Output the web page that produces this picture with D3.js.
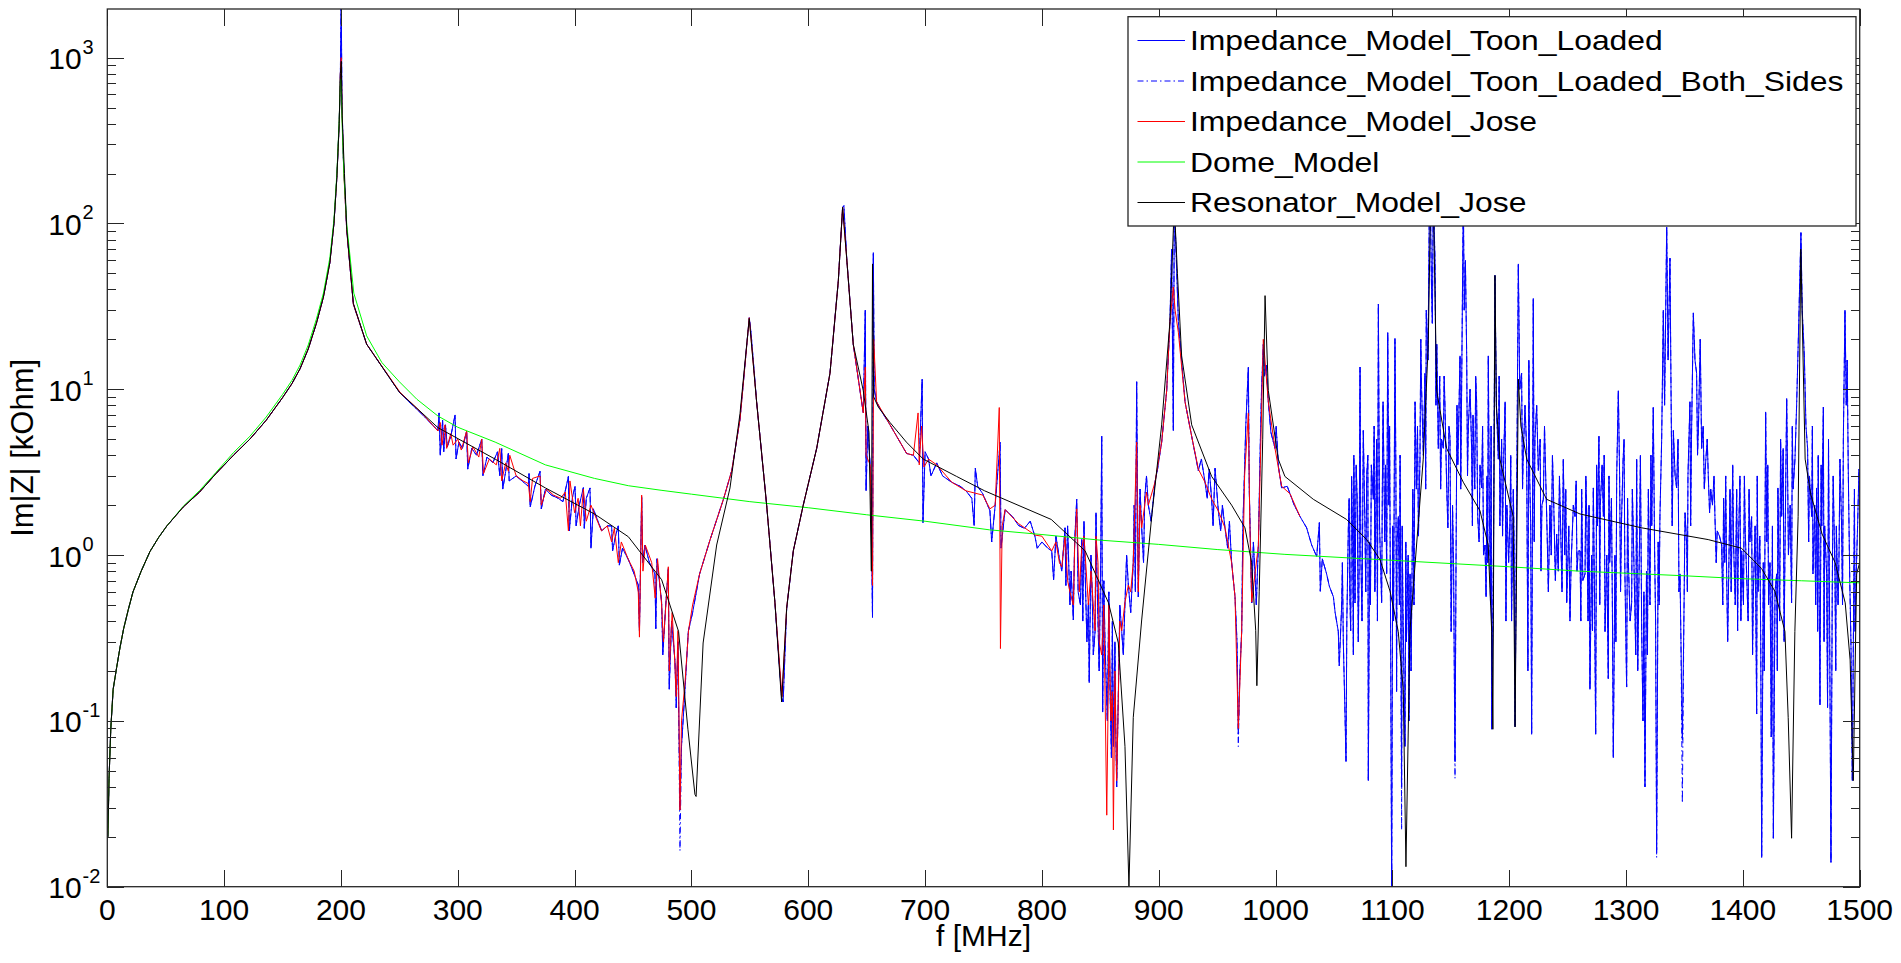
<!DOCTYPE html>
<meta charset="utf-8">
<script src="https://d3js.org/d3.v7.min.js"></script>
<style>
    body { margin: 0; background: #fff; }
    text { font-family: "Liberation Sans", Arial, sans-serif; fill: #000; }
</style>
<div id="chart"></div>
<script>
    // ---------------- data (f in MHz, Im|Z| in kOhm) ----------------
    var xTickValues = [0, 100, 200, 300, 400, 500, 600, 700, 800, 900, 1000, 1100, 1200, 1300, 1400, 1500];
    var yDecades = [-2, -1, 0, 1, 2, 3];
    var yMinorMantissas = [2, 3, 4, 5, 6, 7, 8, 9];

    var seriesNames = ["Impedance_Model_Toon_Loaded", "Impedance_Model_Toon_Loaded_Both_Sides",
        "Impedance_Model_Jose", "Dome_Model", "Resonator_Model_Jose"];

    // first resonance (all models on top of each other)
    var riseF = [0.5, 1.5, 3, 5, 8, 11, 14, 18, 22, 29, 36.5, 44, 51, 65, 79, 93, 108, 122, 136, 150, 158, 165, 172, 179, 185, 190.5, 194, 196.5, 198.5, 199.5];
    var riseZ = [0.02, 0.045, 0.09, 0.155, 0.21, 0.28, 0.36, 0.47, 0.6, 0.8, 1.05, 1.28, 1.5, 1.95, 2.4, 3.1, 4.0, 5.0, 6.5, 8.9, 10.8, 13.3, 17.5, 25, 36, 58, 100, 190, 400, 800];
    var domeRiseZ = [0.02, 0.045, 0.09, 0.155, 0.21, 0.28, 0.36, 0.47, 0.6, 0.8, 1.05, 1.28, 1.5, 1.97, 2.45, 3.15, 4.15, 5.2, 6.8, 9.3, 11.3, 14, 18.5, 26.5, 38, 62, 105, 200, 420, 740];

    var toonTail = [
        [200.2, 2500], [200.8, 600], [202, 250], [204.9, 92], [210.6, 32.6], [222, 18.7], [250.5, 9.5], [270, 7.0],
        [283, 5.64], [284, 7.2], [285, 4.0], [287, 6.5], [288, 4.2], [289.5, 6.1], [291, 4.5], [294, 5.2], [297.7, 7.0], [298.5, 3.8],
        [301, 4.8], [304, 4.4], [307.6, 5.6], [308.5, 3.3], [312, 4.4], [316, 4.0], [320.5, 5.0], [321.5, 3.0], [325, 3.9], [330, 3.6],
        [334, 4.2], [336, 3.0], [337.6, 4.4], [338.5, 2.5], [341, 3.2], [343.3, 4.1], [344, 2.8], [350, 3.0], [355, 2.8], [360.4, 2.6],
        [361, 3.1], [362, 1.95], [366, 2.6], [370.4, 3.2], [371.5, 1.9], [375, 2.5], [380, 2.3], [386, 2.2], [390, 2.1], [394.7, 2.98],
        [395.5, 1.4], [398, 2.2], [400.4, 2.6], [401.3, 1.5], [404, 2.0], [407.5, 2.55], [408.3, 1.45], [410, 2.2], [413.2, 2.54], [414, 1.1],
        [416, 1.9], [420, 1.6], [423.2, 1.4], [428, 1.5], [431.7, 1.5], [432.5, 1.06], [435, 1.3], [437.4, 1.5], [438.3, 0.87], [441, 1.1],
        [446, 0.94], [450, 0.8], [454.5, 0.66], [455.5, 0.35], [457.4, 2.25], [458.3, 0.9], [460.2, 1.15], [464, 0.9], [468.8, 0.77], [469.5, 0.36],
        [470.5, 0.95], [474.5, 0.52], [475.5, 0.25], [478, 0.5], [480.2, 0.83], [481, 0.155], [483, 0.4], [485.9, 0.23], [487, 0.12], [488.5, 0.3],
        [490.2, 0.029], [491.5, 0.07], [494.5, 0.155], [497.3, 0.346], [501, 0.45], [507, 0.77], [516, 1.24], [527.4, 2.17], [534.5, 3.23], [541.6, 6.6],
        [549.5, 27], [551, 22], [555.8, 8.4], [564.4, 2.0], [571.5, 0.515], [577.2, 0.138], [578.5, 0.13], [581.5, 0.476], [587.2, 1.06], [595.7, 2.0],
        [607.2, 4.4], [618.6, 12.5], [625.7, 44.8], [629.4, 125], [630.5, 128], [632.9, 61.7], [638.5, 18.7], [647.1, 7.2], [648.8, 30], [649.5, 2.44],
        [651, 6], [653.5, 3.0], [655, 0.42], [655.7, 66.7], [656.5, 10], [658.5, 8.4], [662, 7.5], [670, 6.1], [684.2, 4.1], [690, 4.0],
        [695, 3.6], [697.5, 11.5], [698.2, 1.57], [700, 4.2], [703, 3.79], [705, 3.0], [710, 3.6], [715, 3.0], [722.8, 2.75], [730, 2.6],
        [735, 2.44], [740, 2.2], [742, 1.51], [743, 3.34], [745, 2.6], [749.4, 2.34], [755.5, 1.85], [757, 1.2], [760, 2.0], [764.2, 4.8],
        [765, 1.1], [768.5, 1.88], [775, 1.7], [779.9, 1.51], [785, 1.45], [790, 1.6], [794.1, 1.29], [796, 1.1], [800, 1.2], [805, 1.1],
        [808.4, 1.06], [810, 0.71], [815, 0.95], [819.8, 1.46], [820.5, 0.656], [825, 0.8], [826.9, 0.406], [829.8, 2.17], [831, 0.6], [834.1, 1.24],
        [835, 0.4], [837, 0.8], [839.8, 0.515], [840.5, 0.17], [843, 0.6], [845.5, 0.346], [847, 0.8], [851.2, 5.2], [852, 0.113], [854, 0.3],
        [858.3, 0.155], [859.5, 0.06], [861.2, 0.07], [862.5, 0.3], [864, 0.04], [865.5, 0.155], [868.3, 0.346], [871.1, 0.515], [874, 0.656], [878.2, 0.9],
        [879, 2.0], [881.1, 11.1], [882.5, 0.56], [885.4, 1.46], [888, 2.2], [891.1, 2.0], [896.8, 2.75], [902.5, 4.8], [906.8, 9.8], [909.6, 25.6],
        [911, 70], [912.5, 5.64], [913.3, 120], [914.5, 80], [916.8, 25.6], [922.5, 8.4], [928.2, 5.2], [933.9, 3.23], [939.6, 2.75], [945.3, 2.17],
        [946.5, 1.5], [948.2, 3.34], [951, 1.85], [956.7, 1.46], [962.4, 0.9], [965.3, 0.56], [968.1, 0.083], [971, 0.346], [973.3, 3.0], [976.7, 13.6],
        [977.5, 2.5], [979.6, 0.515], [982.4, 0.77], [985.3, 1.15], [987, 5], [989.5, 18.7], [990.5, 12], [993.8, 8.4], [999.5, 4.4], [1000.5, 6],
        [1005.2, 2.54], [1010, 2.6], [1012.4, 2.34], [1016, 2.0], [1020.9, 1.71], [1026.6, 1.46], [1030.9, 1.15], [1035.2, 0.98], [1037.5, 1.57], [1038.3, 0.605],
        [1040, 0.95], [1043.7, 0.77], [1046, 0.65], [1049.5, 0.56], [1051, 0.45], [1053.7, 0.346], [1054.5, 0.215], [1056.6, 0.5], [1058, 0.3], [1059.4, 0.113],
        [1060.3, 0.057], [1061, 0.4], [1062.3, 1.46], [1063.5, 0.6], [1065.1, 2.98], [1066, 1.2], [1067, 4.0], [1068, 0.515], [1070, 2.0], [1071.5, 0.8],
        [1072.3, 13.6], [1073, 1.0], [1075.1, 5.64], [1076.5, 1.5], [1078, 3.0], [1079.4, 0.0436], [1080.5, 1.2], [1082, 3.5], [1083.7, 2.17], [1085, 0.6],
        [1086.5, 5], [1088, 32.6], [1089, 1.5], [1090.8, 0.515], [1092, 8.4], [1093.5, 1.2], [1095.1, 0.77], [1096, 22], [1097, 2], [1098.5, 0.3],
        [1099.4, 0.009], [1100.3, 1.5], [1102.2, 20.2], [1103, 3], [1104, 1.2], [1105.1, 1.71], [1106, 0.5], [1107.9, 0.04], [1109, 0.5], [1110.8, 0.07],
        [1112, 0.3], [1113.5, 1.0], [1115.1, 0.77], [1116, 0.2], [1117.5, 2.5], [1119.4, 8.4], [1120.5, 2.5], [1121.5, 6], [1123.6, 3.79], [1125, 10],
        [1126.5, 4], [1127.9, 12.5], [1129, 30], [1130.5, 15], [1131.5, 100], [1132.2, 200], [1133.5, 40], [1135, 150], [1136.5, 60], [1138, 18.7],
        [1139.3, 4.4], [1140.5, 12], [1142, 5], [1143.6, 4.4], [1145, 8], [1146.5, 2.54], [1147.5, 1.46], [1149.3, 5.2], [1150.3, 0.346], [1151.5, 2.0],
        [1153.6, 0.057], [1154.5, 1.0], [1156, 3.5], [1157.9, 15.9], [1159, 6], [1160.7, 150], [1161.5, 30], [1163.6, 15.9], [1165, 6], [1166.5, 10],
        [1167.8, 4.4], [1169, 7], [1170.5, 2.5], [1172.1, 8.4], [1173, 1.71], [1175, 3.5], [1176.4, 2.54], [1178, 1.0], [1179.3, 1.15], [1180.2, 0.56],
        [1181, 3.0], [1182.1, 15.9], [1183, 2.0], [1184, 0.5], [1185, 0.089], [1186.5, 1.0], [1187.8, 48.6], [1189, 8], [1190.7, 3.79], [1192, 1.5],
        [1193.5, 5], [1195, 3.2], [1196.5, 8.4], [1198, 2.0], [1199.5, 0.9], [1200.7, 1.71], [1202, 0.4], [1203.5, 2.5], [1205, 0.092], [1206.5, 3],
        [1207.8, 57], [1209, 10], [1210.6, 12.5], [1212, 4], [1213.5, 8], [1214.9, 4.4], [1216, 0.2], [1217.5, 3], [1219.2, 0.083], [1220.6, 35.3],
        [1222, 5], [1223.5, 8], [1224.9, 3.23], [1226.5, 5], [1228, 2.0], [1229.2, 2.17], [1231, 3.5], [1232.5, 1.3], [1234.9, 2.0], [1236, 1.0],
        [1238, 2.2], [1240.6, 1.34], [1242, 0.8], [1244, 1.5], [1246.3, 3.79], [1247.5, 1.0], [1249.2, 0.515], [1251, 1.5], [1253, 0.9], [1254.9, 2.0],
        [1256.3, 1.71], [1258, 0.8], [1259.1, 1.06], [1260.6, 1.06], [1262, 2.5], [1263, 0.7], [1264.9, 0.77], [1266.5, 1.5], [1267.5, 0.4], [1269.1, 0.155],
        [1270.5, 1.0], [1272, 2.54], [1273, 0.6], [1274, 0.083], [1275.5, 1.5], [1276.8, 5.2], [1278, 2.0], [1279.5, 3.5], [1280.6, 1.71], [1282, 0.346],
        [1283.5, 1.0], [1284.8, 0.18], [1286, 0.9], [1287.5, 2.2], [1289.1, 0.06], [1290.5, 1.0], [1292, 3], [1293.4, 9.8], [1294.5, 3], [1296.2, 1.71],
        [1297.5, 3.79], [1299, 0.8], [1300.5, 0.16], [1302, 0.9], [1303.5, 0.4], [1304.8, 0.515], [1306, 1.6], [1307.5, 0.5], [1309.1, 3.79], [1310, 0.2],
        [1311.5, 1.2], [1313.4, 0.346], [1314.5, 0.1], [1315.3, 0.6], [1316.2, 0.04], [1317.5, 0.8], [1319.1, 2.5], [1320.5, 0.5], [1322, 1.5], [1323.3, 7.76],
        [1324.5, 1.0], [1326.2, 0.0167], [1327.5, 1.2], [1329, 1.71], [1330.5, 5], [1331.9, 30], [1333, 8], [1334.8, 95], [1336, 15], [1337.6, 61.7],
        [1338.5, 10], [1340.5, 5.64], [1342, 3], [1343.3, 2.54], [1344.5, 5], [1346.2, 0.77], [1347, 0.3], [1348.2, 0.077], [1349.5, 0.4], [1351.9, 1.15],
        [1353, 3], [1354.7, 8.4], [1356, 5], [1357.6, 28.9], [1359, 15], [1360.4, 12.5], [1362, 6], [1364.7, 4.4], [1366, 6], [1368, 3.5],
        [1370.4, 3.0], [1372.5, 2.5], [1374, 2.0], [1376.1, 1.71], [1378, 1.4], [1380, 1.3], [1381.8, 1.15], [1383.5, 2.2], [1384.5, 0.9], [1386.1, 0.77],
        [1387, 0.3], [1389, 2.5], [1390, 0.6], [1392, 1.2], [1394.7, 2.5], [1396, 1.0], [1397.5, 3], [1399, 1.06], [1400.5, 0.5], [1402, 1.4],
        [1403.2, 0.77], [1404.5, 0.4], [1406, 1.2], [1407.5, 1.71], [1409, 0.6], [1410.5, 1.5], [1411.8, 0.11], [1413, 0.6], [1414.5, 1.3], [1416.1, 0.015],
        [1417.5, 0.9], [1419.5, 7.3], [1420.5, 1.2], [1422, 0.5], [1423.2, 0.9], [1424.3, 0.08], [1426.1, 0.0196], [1427.5, 0.6], [1428.9, 0.77], [1430, 2.54],
        [1431.5, 0.4], [1433.2, 1.71], [1434.5, 4.4], [1436, 1.0], [1437.5, 8.8], [1439, 1.0], [1440.5, 2], [1441.7, 0.515], [1443, 2.5], [1444.6, 3.79],
        [1446, 8], [1447.4, 19], [1448.5, 40], [1449.7, 88], [1450.8, 30], [1452.6, 15.9], [1454, 6], [1455.4, 4.4], [1457, 3], [1458.9, 1.71],
        [1460, 0.77], [1461.5, 2], [1463.1, 2.54], [1464, 0.346], [1465, 1.2], [1466, 0.125], [1467.5, 1.5], [1468.9, 7.8], [1470, 1.5], [1471.7, 0.77],
        [1472.5, 0.12], [1474, 0.8], [1475.4, 0.014], [1476.5, 0.6], [1478.8, 0.77], [1480, 1.5], [1481.5, 0.5], [1483.1, 3.79], [1484.5, 1.5], [1486, 5],
        [1487.4, 30], [1488.5, 8], [1490.2, 3.3], [1491.5, 0.7], [1492.5, 0.3], [1493.7, 0.0436], [1494.8, 0.5], [1496, 0.346], [1497, 0.77], [1498.2, 1.5],
        [1499.4, 3.3], [1500, 2.0]
    ];

    // finer readings of the dense noisy bands (merged into the same trace)
    var toonTailFine = [
        [812, 1.3], [817, 0.8], [822, 1.5], [824, 0.5], [828, 1.2], [833, 0.5], [836, 1.6], [838.5, 0.3], [842, 1.0], [844, 0.25],
        [846.3, 1.8], [849, 0.2], [850.3, 0.9], [853, 0.7], [856, 0.1], [857.3, 0.6], [860.3, 0.4], [863.2, 0.09], [866.7, 0.5], [869.7, 0.25],
        [872.5, 1.0], [876, 0.45], [880, 0.6], [884, 2.5], [887, 0.9], [889.5, 3], [893.5, 1.6], [899, 3.3],
        [936.5, 3.8], [941.5, 2.2], [943.2, 3.3], [953, 1.4], [954.5, 2.0], [959, 1.1], [960.5, 1.6], [967, 0.3], [969.5, 0.2], [972, 1.5],
        [974.5, 6], [981, 1.2], [983.5, 0.5], [988, 10], [992, 14], [996, 5.5], [1002.5, 3.4],
        [1057.2, 0.9], [1063, 2.2], [1064.3, 0.35], [1066.6, 0.25], [1069, 3.5], [1070.8, 0.3], [1074, 0.4], [1077.2, 0.6], [1079, 4], [1081.2, 0.5],
        [1084.4, 6], [1087.2, 0.4], [1091.4, 2.5], [1094.2, 3.5], [1097.6, 6], [1101, 0.4], [1103.6, 0.15], [1106.6, 4], [1108.4, 1.5], [1111.5, 1.2],
        [1114.2, 0.1], [1118.5, 0.5], [1122.3, 1.3], [1124.3, 20], [1128.5, 2.5], [1134.2, 25], [1137.3, 8], [1141.3, 2.5], [1144.3, 12], [1148.4, 6],
        [1152.4, 0.8], [1155.3, 8], [1158.5, 2.5], [1162.5, 60], [1164.3, 3], [1168.5, 1.5], [1171.3, 12], [1174.2, 1.2], [1177.2, 6], [1181.6, 0.9],
        [1184.5, 6], [1191.4, 12], [1194.3, 1.3], [1197.2, 0.4], [1201.3, 4], [1204.2, 1.2], [1211.4, 2.5], [1216.8, 15], [1218.4, 1.5], [1221.4, 1.2],
        [1227.2, 0.8], [1230.2, 6], [1233.5, 0.6], [1237, 4], [1239.5, 0.7], [1243, 3], [1245.2, 0.6], [1248.4, 2.5], [1252, 0.4], [1257.3, 2.8],
        [1261.3, 0.4], [1265.6, 3], [1268.3, 2], [1271.3, 0.35], [1274.8, 3.5], [1277.5, 0.5], [1281.3, 4], [1285.4, 3], [1288.3, 0.5], [1291.3, 0.3],
        [1295.3, 0.6], [1298.3, 5], [1301.3, 2.2], [1305.4, 2.5], [1308.3, 0.25], [1312.3, 4], [1318.3, 0.25], [1321.3, 4], [1325.3, 0.4], [1328.3, 0.5],
        [1339.5, 1.5], [1345.3, 0.6], [1350.5, 1.8], [1352.5, 0.6], [1355.3, 1.5], [1361.2, 4], [1363.5, 20], [1367, 2.5], [1369.5, 5], [1371.5, 1.8],
        [1375.3, 3], [1377.2, 0.9], [1382.8, 0.5], [1385.3, 3], [1388.3, 1.2], [1391.3, 3.5], [1393.5, 0.5], [1395.5, 0.35], [1398.3, 0.4], [1401.3, 3],
        [1405.3, 2.5], [1408.3, 0.25], [1412.3, 3], [1415.3, 0.3], [1418.3, 0.2], [1421.3, 3.5], [1425.3, 1.5], [1429.5, 0.2], [1432.3, 5], [1435.3, 0.3],
        [1438.3, 3], [1442.3, 6], [1456.3, 1.2], [1459.5, 6], [1462.3, 0.5], [1464.5, 4], [1467, 3.5], [1469.5, 0.3], [1473.3, 5], [1477.3, 3],
        [1479.5, 0.2], [1482.3, 1], [1485.3, 0.5], [1489.3, 15], [1495.5, 2.5]
    ];

    // where the "both sides" trace dips deeper than the single-sided one
    var bothSidesDips = [[490.2, 0.0165], [968.1, 0.07], [1107.9, 0.022], [1153.6, 0.045], [1326.2, 0.015], [1348.2, 0.032]];

    var joseTail = [
        [200.2, 1000], [201, 450], [202.5, 200], [204.9, 92], [210.6, 32.6], [222, 18.7], [250.5, 9.6], [270, 7.1],
        [283, 5.6], [285, 6.3], [286.5, 4.6], [289, 6.1], [290.5, 4.4], [294, 5.4], [296, 4.6], [300, 5.0], [303, 4.3], [307.6, 5.6],
        [309, 3.6], [313, 4.5], [318, 3.9], [320.5, 5.0], [322, 3.1], [327, 3.8], [333, 3.5], [336, 4.4], [337.6, 2.8], [341, 3.6],
        [343.3, 3.2], [344.5, 4.0], [350, 3.0], [356, 2.8], [360.4, 2.7], [362, 2.1], [364, 2.9], [370.4, 3.0], [371.5, 2.0], [376, 2.5],
        [382, 2.3], [388, 2.2], [392, 2.4], [394.7, 1.4], [396, 2.8], [400, 1.8], [403, 2.2], [405, 1.5], [407.5, 2.5], [410, 1.6],
        [414, 2.0], [418, 1.7], [423, 1.4], [428, 1.5], [431.7, 1.2], [434, 1.45], [437.4, 0.9], [440, 1.2], [446, 0.94], [451, 0.8],
        [454.5, 0.6], [455.5, 0.32], [457.4, 2.3], [458.5, 0.8], [460.5, 1.15], [466, 0.9], [469, 0.55], [471, 0.95], [474.5, 0.5], [476, 0.3],
        [478.5, 0.55], [480.2, 0.85], [481, 0.2], [483.5, 0.45], [485.5, 0.25], [487, 0.14], [488.5, 0.35], [490.2, 0.029], [491.5, 0.1], [494.5, 0.17],
        [497.5, 0.35], [501, 0.5], [507, 0.77], [516, 1.24], [527.4, 2.17], [534.5, 3.23], [541.6, 6.6], [549.5, 27], [555.8, 8.4], [564.4, 2.0],
        [571.5, 0.515], [577.5, 0.14], [581.5, 0.48], [587.2, 1.06], [595.7, 2.0], [607.2, 4.4], [618.6, 12.5], [625.7, 44.8], [629.4, 125], [632.9, 61.7],
        [638.5, 18.7], [647.1, 7.2], [648.8, 13.6], [649.5, 4], [653, 3.5], [655, 0.656], [656, 20], [658.5, 8.4], [670, 6.1], [684.2, 4.1],
        [690, 4.0], [694, 7.2], [695, 3.5], [697, 6], [699, 3.4], [703, 3.79], [710, 3.5], [722.8, 2.75], [735, 2.44], [749.4, 2.3],
        [755.5, 1.9], [760, 2.0], [763.5, 7.76], [764.5, 0.273], [766, 1.5], [768.5, 1.88], [779.9, 1.55], [794.1, 1.32], [800, 1.3], [808.4, 1.06],
        [812, 1.2], [815, 0.9], [817, 0.85], [819.8, 1.3], [822, 0.7], [824, 0.6], [826.9, 0.5], [828, 1.1], [829.8, 1.9], [832, 0.6],
        [834.1, 1.1], [836, 1.3], [839.8, 0.5], [842, 0.8], [845.5, 0.35], [846.3, 1.3], [848, 0.9], [849, 0.3], [851.2, 0.25], [853, 0.5],
        [855.5, 0.027], [857, 0.2], [857.3, 0.5], [859, 0.1], [860.3, 0.15], [861.2, 0.022], [862.5, 0.2], [864, 0.0436], [865.5, 0.15], [866.7, 0.4],
        [868.3, 0.35], [871.1, 0.52], [874, 0.66], [876, 0.6], [878.2, 0.9], [881.1, 4.8], [882.5, 0.6], [884, 2], [885.4, 1.46], [889.5, 2.4],
        [891.1, 2.0], [896.8, 2.75], [902.5, 4.8], [906.8, 9.8],
        [909.6, 25.6], [912.5, 41.4], [914, 30], [916.8, 22], [922.5, 8.4], [928.2, 5.2], [933.9, 3.3], [939.6, 2.75], [945.3, 2.17], [951, 1.85],
        [956.7, 1.46], [962.4, 0.9], [965.3, 0.56], [968.1, 0.09], [971, 0.35], [973.5, 3], [976.7, 7.2], [978, 1.5], [979.6, 0.52], [982.4, 0.77],
        [985.3, 1.15], [989.5, 20], [993.8, 8.4], [999.5, 4.4], [1005.2, 2.6], [1012.4, 2.34], [1020.9, 1.71]
    ];

    var domeTail = [
        [200.2, 740], [201, 400], [202.5, 200], [205, 98], [211, 38], [222, 21], [235, 14.5], [250, 11.1], [265, 8.7], [283, 6.9],
        [300, 5.9], [332, 4.8], [375, 3.5], [417, 2.9], [446, 2.62], [474, 2.46], [500, 2.33], [550, 2.1], [600, 1.93], [650, 1.75],
        [700, 1.6], [755, 1.42], [800, 1.33], [850, 1.23], [900, 1.16], [950, 1.08], [1008, 1.01], [1100, 0.93], [1200, 0.85], [1260, 0.8],
        [1350, 0.75], [1400, 0.72], [1450, 0.7], [1500, 0.68]
    ];

    var resonatorTail = [
        [200.3, 950], [201, 450], [203, 200], [205, 92], [210.6, 33], [222, 18.7], [250, 9.6], [283, 5.87], [332, 3.79], [375, 2.54],
        [417, 1.77], [446, 1.29], [474.5, 0.71], [489, 0.346], [497, 0.089], [503, 0.036], [504, 0.035], [510, 0.295], [521.6, 1.15], [533, 2.54],
        [541.6, 7.17], [549.5, 26.7], [555.8, 8.4], [564.4, 2.0], [571.5, 0.515], [577.2, 0.13], [581.5, 0.476], [587.2, 1.06], [595.7, 2.0], [607.2, 4.4],
        [618.6, 12.5], [625.7, 44.8], [629.4, 125], [632.9, 61.7], [638.5, 18.7], [647.1, 9.8], [652, 5.5], [654, 0.8], [655, 57], [656, 9],
        [660, 7.8], [670, 6.3], [684, 4.8], [698.5, 3.79], [727, 2.98], [751, 2.44], [808, 1.64], [837, 1.06], [857, 0.515], [865.4, 0.295],
        [871.1, 0.07], [874.5, 0.01], [878.2, 0.105], [885.4, 0.406], [894, 1.71], [902.5, 6.1], [909.6, 25.6], [913.3, 130], [916, 50], [919.6, 15.9],
        [928.2, 6.1], [945.3, 2.98], [962.4, 2.0], [973.8, 1.46], [979.5, 0.9], [983, 0.35], [984, 0.163], [986, 0.6], [989, 5], [991, 36.7],
        [993.8, 9.8], [1002.3, 3.79], [1008, 2.98], [1032.3, 2.17], [1060.8, 1.64], [1078, 1.24], [1089.4, 0.94], [1098, 0.605], [1105, 0.346], [1109.3, 0.155],
        [1111.6, 0.0132], [1115, 0.346], [1120.7, 1.15], [1126.4, 3.79], [1130.7, 18.7], [1133.5, 300], [1135, 150], [1137.9, 9.8], [1146.4, 4.4], [1160.7, 2.75],
        [1175, 1.85], [1182, 1.15], [1185, 0.346], [1186, 0.089], [1187.8, 48.6], [1189, 8], [1192, 3.79], [1203.4, 1.71], [1205, 0.092], [1207.8, 11.5],
        [1210, 6], [1215, 3.79], [1232, 2.17], [1260.6, 1.77], [1313.3, 1.46], [1370.3, 1.24], [1398.8, 1.1], [1416, 0.83], [1427.4, 0.605], [1436, 0.346],
        [1438.8, 0.105], [1441.7, 0.0196], [1444.5, 0.346], [1447.3, 1.71], [1449.6, 70], [1453.3, 3.79], [1458, 2.34], [1467.8, 1.34], [1479, 0.9], [1487.6, 0.515],
        [1491.8, 0.233], [1494.5, 0.0436], [1497.4, 0.77], [1500, 0.9]
    ];

    // ---------------- layout ----------------
    var W = 1901, H = 963;
    var plotLeft = 107.3, plotRight = 1859.7, plotTop = 9, plotBottom = 886.7;

    var svg = d3.select("#chart").append("svg")
        .attr("width", W).attr("height", H);

    var x = d3.scaleLinear().domain([0, 1500]).range([plotLeft, plotRight]);
    var y = d3.scaleLog().domain([0.01, 1965]).range([plotBottom, plotTop]);

    svg.append("clipPath").attr("id", "plotclip")
        .append("rect").attr("x", plotLeft).attr("y", plotTop)
        .attr("width", plotRight - plotLeft).attr("height", plotBottom - plotTop);

    // build series
    var byF = function (a, b) { return a[0] - b[0]; };
    var rise = riseF.map(function (f, i) { return [f, riseZ[i]]; });
    var domeRise = riseF.map(function (f, i) { return [f, domeRiseZ[i]]; });
    var toon = rise.concat(toonTail, toonTailFine).sort(byF);
    var bothSides = toon.map(function (d) {
        var dip = bothSidesDips.find(function (p) { return p[0] === d[0]; });
        return dip ? dip : d;
    });

    var series = [
        { name: seriesNames[0], data: toon, color: "#0000ff", dash: null },
        { name: seriesNames[1], data: bothSides, color: "#0000ff", dash: "6,3,1.5,3" },
        { name: seriesNames[2], data: rise.concat(joseTail).sort(byF), color: "#ff0000", dash: null },
        { name: seriesNames[3], data: domeRise.concat(domeTail), color: "#00ff00", dash: null },
        { name: seriesNames[4], data: rise.concat(resonatorTail), color: "#000000", dash: null }
    ];

    var line = d3.line()
        .x(function (d) { return x(d[0]); })
        .y(function (d) { return y(Math.max(d[1], 0.008)); });

    var plot = svg.append("g").attr("clip-path", "url(#plotclip)");
    plot.selectAll("path.trace")
        .data(series)
        .enter()
        .append("path")
        .attr("class", "trace")
        .attr("d", function (d) { return line(d.data); })
        .attr("fill", "none")
        .attr("stroke", function (d) { return d.color; })
        .attr("stroke-width", 1)
        .attr("stroke-dasharray", function (d) { return d.dash; });

    // ---------------- axes (inward ticks, box on) ----------------
    var axisColor = "#262626";
    var majorY = yDecades.map(function (e) { return Math.pow(10, e); });
    var minorY = [];
    yDecades.forEach(function (e) {
        yMinorMantissas.forEach(function (m) {
            var v = m * Math.pow(10, e);
            if (v < 1965) minorY.push(v);
        });
    });

    function styleAxis(g) {
        g.select(".domain").remove();
        g.selectAll(".tick line").attr("stroke", axisColor).attr("shape-rendering", "crispEdges");
        g.selectAll(".tick text").remove();
    }

    svg.append("g").attr("transform", "translate(0," + plotBottom + ")")
        .call(d3.axisBottom(x).tickValues(xTickValues).tickSizeInner(-17).tickSizeOuter(0).tickFormat(""))
        .call(styleAxis);
    svg.append("g").attr("transform", "translate(0," + plotTop + ")")
        .call(d3.axisTop(x).tickValues(xTickValues).tickSizeInner(-17).tickSizeOuter(0).tickFormat(""))
        .call(styleAxis);
    svg.append("g").attr("transform", "translate(" + plotLeft + ",0)")
        .call(d3.axisLeft(y).tickValues(majorY).tickSizeInner(-17).tickSizeOuter(0).tickFormat(""))
        .call(styleAxis);
    svg.append("g").attr("transform", "translate(" + plotLeft + ",0)")
        .call(d3.axisLeft(y).tickValues(minorY).tickSizeInner(-9).tickSizeOuter(0).tickFormat(""))
        .call(styleAxis);
    svg.append("g").attr("transform", "translate(" + plotRight + ",0)")
        .call(d3.axisRight(y).tickValues(majorY).tickSizeInner(-17).tickSizeOuter(0).tickFormat(""))
        .call(styleAxis);
    svg.append("g").attr("transform", "translate(" + plotRight + ",0)")
        .call(d3.axisRight(y).tickValues(minorY).tickSizeInner(-9).tickSizeOuter(0).tickFormat(""))
        .call(styleAxis);

    svg.append("rect")
        .attr("x", plotLeft).attr("y", plotTop)
        .attr("width", plotRight - plotLeft).attr("height", plotBottom - plotTop)
        .attr("fill", "none").attr("stroke", axisColor).attr("stroke-width", 1.3);

    // tick labels
    svg.selectAll("text.xlab")
        .data(xTickValues)
        .enter()
        .append("text")
        .attr("class", "xlab")
        .attr("x", function (d) { return x(d); })
        .attr("y", 920)
        .attr("text-anchor", "middle")
        .style("font-size", "30px")
        .text(function (d) { return d; });

    var ylab = svg.selectAll("g.ylab")
        .data(yDecades)
        .enter()
        .append("g")
        .attr("class", "ylab")
        .attr("transform", function (d) { return "translate(0," + y(Math.pow(10, d)) + ")"; });
    ylab.append("text")
        .attr("x", 81.7).attr("y", 11.6)
        .attr("text-anchor", "end")
        .style("font-size", "30px")
        .text("10");
    ylab.append("text")
        .attr("x", 82.5).attr("y", -4)
        .style("font-size", "20px")
        .text(function (d) { return d; });

    // axis titles
    svg.append("text")
        .attr("x", (plotLeft + plotRight) / 2)
        .attr("y", 946)
        .attr("text-anchor", "middle")
        .style("font-size", "30px")
        .text("f [MHz]");

    svg.append("text")
        .attr("transform", "translate(33," + ((plotTop + plotBottom) / 2) + ") rotate(-90)")
        .attr("text-anchor", "middle")
        .style("font-size", "31px")
        .text("Im|Z| [kOhm]");

    // ---------------- legend ----------------
    var legX = 1128, legY = 16.7, legW = 728, legH = 209.3;
    var rowY0 = 40.5, rowStep = 40.5;
    var legend = svg.append("g");
    legend.append("rect")
        .attr("x", legX).attr("y", legY)
        .attr("width", legW).attr("height", legH)
        .attr("fill", "#fff").attr("stroke", axisColor).attr("stroke-width", 1.3);

    var rows = legend.selectAll("g.row")
        .data(series)
        .enter()
        .append("g")
        .attr("class", "row")
        .attr("transform", function (d, i) { return "translate(0," + (rowY0 + i * rowStep) + ")"; });
    rows.append("line")
        .attr("x1", 1137.5).attr("x2", 1185)
        .attr("y1", 0).attr("y2", 0)
        .attr("stroke", function (d) { return d.color; })
        .attr("stroke-width", 1)
        .attr("stroke-dasharray", function (d) { return d.dash; });
    rows.append("text")
        .attr("transform", "translate(1190,9.6) scale(1.18,1)")
        .style("font-size", "27px")
        .text(function (d) { return d.name; });
</script>
